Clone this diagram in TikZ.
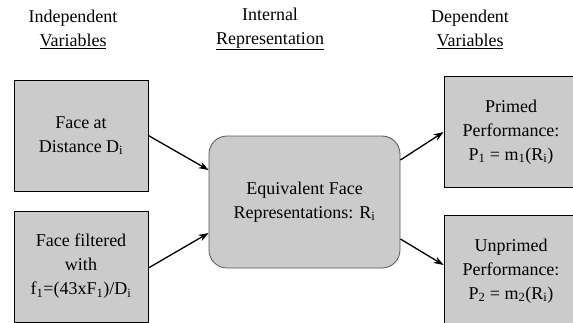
\documentclass[tikz,border=0pt]{standalone}
\usepackage{fontspec}
\setmainfont{Liberation Serif}
\usetikzlibrary{arrows.meta}
\definecolor{boxgray}{HTML}{CBCBCB}
\definecolor{edgegray}{HTML}{555555}

\begin{document}
\begin{tikzpicture}[x=1pt,y=-1pt,
  every node/.style={font=\fontsize{18}{24}\selectfont, align=center},
  var/.style={draw=black, fill=boxgray, minimum width=134pt, minimum height=111pt, line width=0.8pt},
  rep/.style={draw=edgegray, fill=boxgray, rounded corners=18pt, minimum width=191pt, minimum height=132pt, line width=0.8pt},
  link/.style={-{Stealth[length=10pt,width=7pt]}, line width=1.3pt}]
  \useasboundingbox (0,0) rectangle (573,322);
  \node (hindep) at (73,29) {Independent\\\underline{Variables}};
  \node (hinter) at (270,29) {Internal\\\underline{Representation}};
  \node (hdep) at (470,29) {Dependent\\\underline{Variables}};
  \node [var] (facea) at (81,135.5) {Face at\\Distance D\textsubscript{i}};
  \node [var] (faceb) at (81,266.5) {Face filtered\\with\\f\textsubscript{1}=(43xF\textsubscript{1})/D\textsubscript{i}};
  \node [rep] (equiv) at (304.5,202) {Equivalent Face\\Representations: R\textsubscript{i}};
  \node [var] (primed) at (511,132) {Primed\\Performance:\\P\textsubscript{1} = m\textsubscript{1}(R\textsubscript{i})};
  \node [var] (unprimed) at (511,271) {Unprimed\\Performance:\\P\textsubscript{2} = m\textsubscript{2}(R\textsubscript{i})};
  \draw [link] (facea.east) -- ([yshift=32pt]equiv.west);
  \draw [link] ([yshift=-1.5pt]faceb.east) -- ([yshift=-31pt]equiv.west);
  \draw [link] ([yshift=42pt]equiv.east) -- (primed.west);
  \draw [link] ([yshift=-37pt]equiv.east) -- ([yshift=6pt]unprimed.west);
\end{tikzpicture}
\end{document}
